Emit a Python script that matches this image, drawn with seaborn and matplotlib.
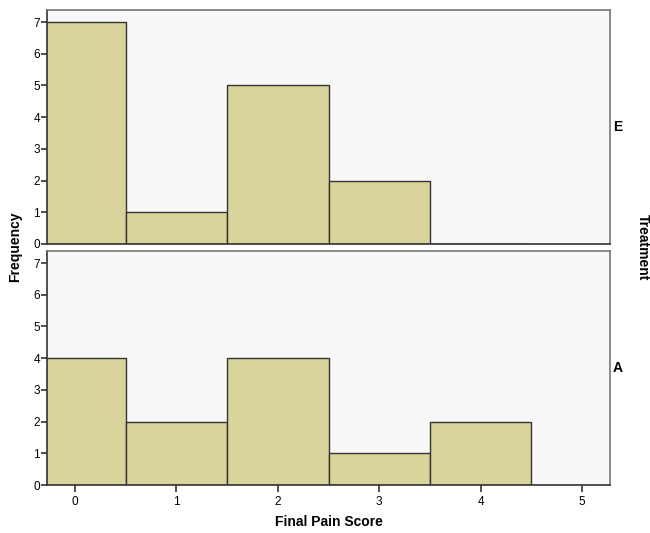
import matplotlib
matplotlib.use("Agg")
import matplotlib.pyplot as plt
import seaborn as sns
import pandas as pd

scores = [0, 1, 2, 3, 4]
counts_E = [7, 1, 5, 2, 0]
counts_A = [4, 2, 4, 1, 2]
panels = ["E", "A"]
x_ticks = [0, 1, 2, 3, 4, 5]
y_ticks = [0, 1, 2, 3, 4, 5, 6, 7]

sns.set_style("white")
plt.rcParams['font.family'] = ['Liberation Sans', 'DejaVu Sans']
plt.rcParams['text.color'] = 'black'
plt.rcParams['xtick.color'] = 'black'
plt.rcParams['ytick.color'] = 'black'

df = pd.DataFrame({
    "score": scores * 2,
    "count": counts_E + counts_A,
    "Treatment": ["E"] * len(scores) + ["A"] * len(scores),
})

fig = plt.figure(figsize=(6.5, 5.33), dpi=100)
W, H = 650, 533
boxes = {"E": (10, 244), "A": (251, 485)}
bar_color = "#d8d49b"
edge = "#333333"

for name in panels:
    top, bot = boxes[name]
    ax = fig.add_axes([47 / W, 1 - bot / H, (610 - 47) / W, (bot - top) / H])
    ax.set_facecolor("#f8f8f8")
    sub = df[df["Treatment"] == name]
    sns.histplot(data=sub, x="score", weights="count", discrete=True,
                 color=bar_color, alpha=1, edgecolor=edge, linewidth=1.0, ax=ax)
    ax.set_xlim(-0.276, 5.276)
    ax.set_ylim(0, 7.38)
    ax.set_yticks(y_ticks)
    ax.set_yticklabels([str(v) for v in y_ticks], fontsize=8.5)
    ax.tick_params(axis="y", left=True, direction="out", length=4, width=1.2,
                   color="#333333", labelcolor="black", pad=1)
    ax.set_ylabel("")
    ax.set_xlabel("")
    if name == "A":
        ax.set_xticks(x_ticks)
        ax.set_xticklabels([str(v) for v in x_ticks], fontsize=8.5)
        ax.tick_params(axis="x", bottom=True, direction="out", length=5, width=1.2,
                       color="#333333", labelcolor="black", pad=3)
    else:
        ax.set_xticks([])
    for s in ["top", "right"]:
        ax.spines[s].set_color("#777777")
        ax.spines[s].set_linewidth(1.2)
    for s in ["left", "bottom"]:
        ax.spines[s].set_color("#333333")
        ax.spines[s].set_linewidth(1.2)
    ax.text(1.005, 0.5, name, transform=ax.transAxes, ha="left", va="center",
            fontsize=10, fontweight="bold", color="black")

fig.text(15 / W, 1 - 247 / H, "Frequency", rotation=90, ha="center", va="center",
         fontsize=10, fontweight="bold", color="black")
fig.text(643 / W, 1 - 247 / H, "Treatment", rotation=-90, ha="center", va="center",
         fontsize=10, fontweight="bold", color="black")
fig.text(329 / W, 1 - 522 / H, "Final Pain Score", ha="center", va="center",
         fontsize=10, fontweight="bold", color="black")

fig.savefig("out.png", dpi=100, facecolor="white")
